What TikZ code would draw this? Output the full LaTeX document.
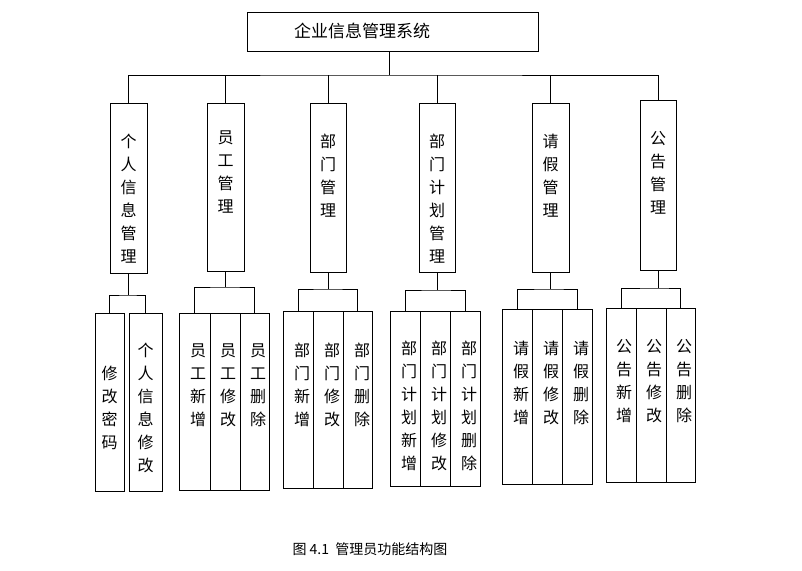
\documentclass[tikz,border=0pt]{standalone}
\usepackage{fontspec}
\newfontfamily\cjk{Noto Sans CJK SC}
\begin{document}
\begin{tikzpicture}[x=1pt,y=-1pt,
  bx/.style={draw,line width=0.9pt,inner sep=0pt},
  vt/.style={anchor=north,inner sep=0pt,align=center,font=\cjk\fontsize{16}{23}\selectfont},
  ln/.style={line width=0.9pt}]
\useasboundingbox (0,0) rectangle (802,570);
\def\bx#1#2#3#4#5{\node[bx,minimum width={#3-#2},minimum height={#5-#4}] (#1) at ({(#2+#3)/2},{(#4+#5)/2}) {};}
\def\tx#1#2#3#4{\node[vt] (#1) at (#2,#3) {#4};}
% top
\bx{top}{247}{538}{12}{51}
\node[font=\cjk\fontsize{17}{19}\selectfont] (toptx) at (362,31) {企业信息管理系统};
\coordinate (hub) at (389,75);
\draw[ln] (top.south -| hub) -- (hub);
% level 2
\bx{a}{110}{147}{103}{273} \tx{at}{128.5}{134}{个\\人\\信\\息\\管\\理}
\bx{b}{207}{244}{103}{271} \tx{bt}{225.5}{131}{员\\工\\管\\理}
\bx{c}{310}{346}{103}{272} \tx{ct}{328}{134}{部\\门\\管\\理}
\bx{d}{419}{455}{103}{272} \tx{dt}{437}{134}{部\\门\\计\\划\\管\\理}
\bx{e}{532}{569}{103}{272} \tx{et}{550.5}{134}{请\\假\\管\\理}
\bx{f}{640}{676}{100}{270} \tx{ft}{658}{131}{公\\告\\管\\理}
\draw[ln] (a.north) |- (hub) -| (f.north);
\foreach \n in {b,c,d,e} \draw[ln] (\n.north) -- (\n.north |- hub);
% level 3
\bx{a1}{95}{124}{313}{491} \tx{a1t}{109.5}{366}{修\\改\\密\\码}
\bx{a2}{129}{162}{313}{491} \tx{a2t}{145.5}{343}{个\\人\\信\\息\\修\\改}
\bx{b1}{179}{210}{313}{490} \tx{b1t}{198}{344}{员\\工\\新\\增}
\bx{b2}{210}{240}{313}{490} \tx{b2t}{228}{344}{员\\工\\修\\改}
\bx{b3}{240}{269}{313}{490} \tx{b3t}{258}{344}{员\\工\\删\\除}
\bx{c1}{283}{313}{311}{488} \tx{c1t}{302}{343}{部\\门\\新\\增}
\bx{c2}{313}{343}{311}{488} \tx{c2t}{332}{343}{部\\门\\修\\改}
\bx{c3}{343}{372}{311}{488} \tx{c3t}{362}{343}{部\\门\\删\\除}
\bx{d1}{390}{420}{311}{486} \tx{d1t}{409}{341}{部\\门\\计\\划\\新\\增}
\bx{d2}{420}{450}{311}{486} \tx{d2t}{439}{341}{部\\门\\计\\划\\修\\改}
\bx{d3}{450}{480}{311}{486} \tx{d3t}{469}{341}{部\\门\\计\\划\\删\\除}
\bx{e1}{502}{532}{309}{484} \tx{e1t}{521}{341}{请\\假\\新\\增}
\bx{e2}{532}{562}{309}{484} \tx{e2t}{551}{341}{请\\假\\修\\改}
\bx{e3}{562}{592}{309}{484} \tx{e3t}{581}{341}{请\\假\\删\\除}
\bx{f1}{606}{636}{308}{482} \tx{f1t}{624}{339}{公\\告\\新\\增}
\bx{f2}{636}{666}{308}{482} \tx{f2t}{654}{339}{公\\告\\修\\改}
\bx{f3}{666}{695}{308}{482} \tx{f3t}{684}{339}{公\\告\\删\\除}
% group connectors
\coordinate (ha) at (128.5,295);
\draw[ln] (a.south) -- (ha); \draw[ln] (a1.north) |- (ha) -| (a2.north);
\coordinate (hb) at (225.5,287);
\draw[ln] (b.south) -- (hb); \draw[ln] (b1.north) |- (hb) -| (b3.north);
\coordinate (hc) at (328,289);
\draw[ln] (c.south) -- (hc); \draw[ln] (c1.north) |- (hc) -| (c3.north);
\coordinate (hd) at (437,290);
\draw[ln] (d.south) -- (hd); \draw[ln] (d1.north) |- (hd) -| (d3.north);
\coordinate (he) at (550.5,289);
\draw[ln] (e.south) -- (he); \draw[ln] (e1.north) |- (he) -| (e3.north);
\coordinate (hf) at (658,288);
\draw[ln] (f.south) -- (hf); \draw[ln] (f1.north) |- (hf) -| (f3.north);
% caption
\node[font=\cjk\fontsize{14}{16}\selectfont] (cap) at (370,549) {图 4.1\ \ 管理员功能结构图};
\end{tikzpicture}
\end{document}
